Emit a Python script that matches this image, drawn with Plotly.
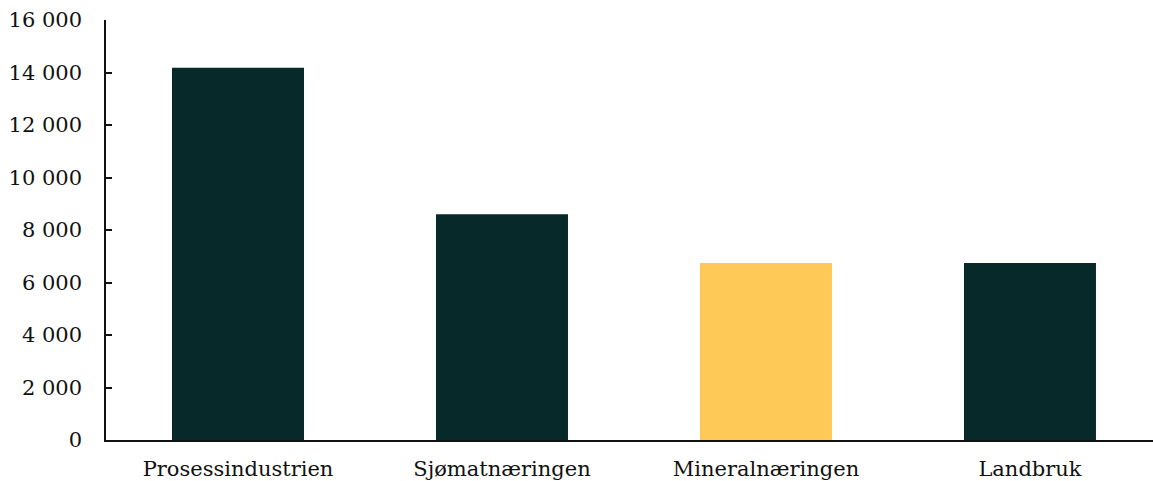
import plotly.graph_objects as go

# Employment by industry (number of people)
categories = ["Prosessindustrien", "Sjømatnæringen", "Mineralnæringen", "Landbruk"]
values = [14180, 8600, 6740, 6740]
bar_colors = ["#07292A", "#07292A", "#FEC957", "#07292A"]
y_ticks = [0, 2000, 4000, 6000, 8000, 10000, 12000, 14000, 16000]

FONT = "DejaVu Serif"
SIZE = 21

fig = go.Figure(
    go.Bar(
        x=categories,
        y=values,
        marker=dict(color=bar_colors, line=dict(width=0)),
        width=0.5,
        hoverinfo="x+y",
    )
)

fig.update_layout(
    width=1153,
    height=481,
    margin=dict(l=106, r=0, t=20, b=41),
    paper_bgcolor="white",
    plot_bgcolor="white",
    separators=", ",
    font=dict(family=FONT, size=SIZE, color="#111111"),
    showlegend=False,
)

fig.update_xaxes(
    type="category",
    range=[-0.5, 3.466],
    showline=True,
    linecolor="#111111",
    linewidth=1.5,
    showgrid=False,
    ticks="",
    tickfont=dict(family=FONT, size=SIZE, color="#111111"),
    ticklabelstandoff=9,
)

fig.update_yaxes(
    range=[0, 16000],
    tickvals=y_ticks,
    tickformat=",d",
    showline=True,
    linecolor="#111111",
    linewidth=1.5,
    showgrid=False,
    zeroline=False,
    ticks="inside",
    ticklen=6,
    tickwidth=1.5,
    tickcolor="#111111",
    tickfont=dict(family=FONT, size=SIZE, color="#111111"),
    ticklabelstandoff=18,
)

fig.write_html("out.html")
